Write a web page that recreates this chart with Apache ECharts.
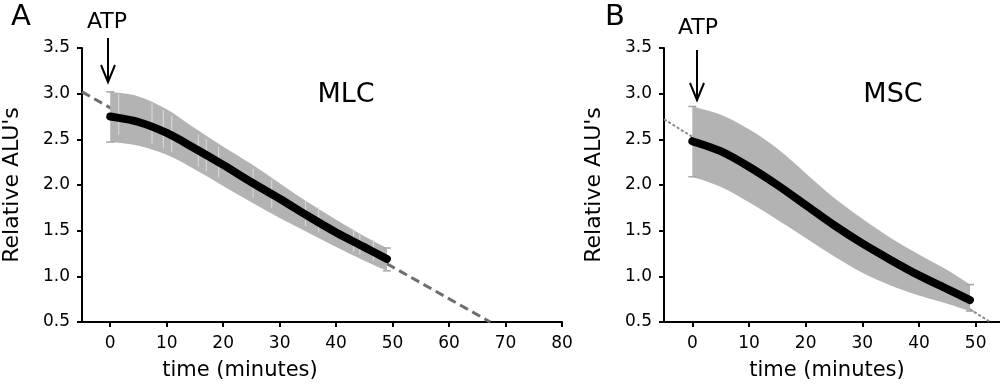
<!DOCTYPE html>
<html><head><meta charset="utf-8">
<script src="https://cdn.jsdelivr.net/npm/echarts@6/dist/echarts.min.js"></script>
<style>html,body{margin:0;padding:0;background:#fff}#c{width:1000px;height:386px}</style>
</head><body><div id="c"></div>
<script>
// ---- data ----
const timesA = [0, 5, 10, 15, 20, 25, 30, 35, 40, 45, 49];
const meanA  = [2.75, 2.69, 2.57, 2.40, 2.22, 2.03, 1.85, 1.66, 1.48, 1.32, 1.19];
const upperA = [3.02, 2.97, 2.83, 2.62, 2.42, 2.23, 2.02, 1.81, 1.62, 1.44, 1.31];
const lowerA = [2.47, 2.43, 2.33, 2.17, 1.99, 1.81, 1.64, 1.48, 1.32, 1.17, 1.06];
const fitA   = [[-5, 3.02], [67.3, 0.5]];
// faint individual error bars visible inside band A: [time, low, high]
const barsA  = [[1.5, 2.55, 3.00], [7.4, 2.45, 2.90], [9.4, 2.40, 2.82], [10.9, 2.36, 2.76],
                [15.6, 2.20, 2.55], [17.0, 2.15, 2.50], [19.2, 2.08, 2.42], [25.3, 1.86, 2.18],
                [28.6, 1.75, 2.06], [34.6, 1.55, 1.83], [36.9, 1.48, 1.76], [43.1, 1.27, 1.52],
                [44.2, 1.24, 1.48], [46.6, 1.17, 1.40]];

const timesB = [0, 5, 10, 15, 20, 25, 30, 35, 40, 45, 49];
const meanB  = [2.48, 2.37, 2.20, 2.00, 1.78, 1.56, 1.36, 1.18, 1.01, 0.86, 0.74];
const upperB = [2.86, 2.77, 2.61, 2.40, 2.13, 1.86, 1.63, 1.42, 1.24, 1.07, 0.91];
const lowerB = [2.09, 1.98, 1.81, 1.62, 1.42, 1.22, 1.04, 0.90, 0.79, 0.70, 0.62];
const fitB   = [[-5, 2.72], [52.6, 0.5]];

const xTicksA = [0, 10, 20, 30, 40, 50, 60, 70, 80];
const xTicksB = [0, 10, 20, 30, 40, 50];

const FONT = 'DejaVu Sans';
const pair = (t, v) => t.map((x, i) => [x, v[i]]);

function xAxis(idx, max, ticks, padRight) {
  return {
    type: 'value', gridIndex: idx, min: -5, max: max,
    axisLine: {show: true, onZero: false, lineStyle: {color: '#000', width: 2}},
    axisTick: {show: true, length: 5, lineStyle: {color: '#000', width: 2}, customValues: ticks},
    axisLabel: {customValues: ticks, color: '#000', fontFamily: FONT, fontSize: 17, margin: 13},
    splitLine: {show: false},
    name: 'time (minutes)', nameLocation: 'middle', nameGap: 38,
    nameTextStyle: {color: '#000', fontFamily: FONT, fontSize: 21, padding: [0, padRight, 0, 0]}
  };
}
function yAxis(idx) {
  return {
    type: 'value', gridIndex: idx, min: 0.5, max: 3.5, interval: 0.5,
    axisLine: {show: true, onZero: false, lineStyle: {color: '#000', width: 2}},
    axisTick: {show: true, length: 5, lineStyle: {color: '#000', width: 2}},
    axisLabel: {color: '#000', fontFamily: FONT, fontSize: 17, margin: 12, formatter: v => v.toFixed(1)},
    splitLine: {show: false},
    name: "Relative ALU's", nameLocation: 'middle', nameGap: 59,
    nameTextStyle: {color: '#000', fontFamily: FONT, fontSize: 22}
  };
}
// smooth path through pixel points (Catmull-Rom -> cubic Bezier)
function curve(pts, start) {
  let d = start ? 'M' + pts[0][0] + ' ' + pts[0][1] : 'L' + pts[0][0] + ' ' + pts[0][1];
  for (let i = 0; i < pts.length - 1; i++) {
    const p0 = pts[Math.max(i - 1, 0)], p1 = pts[i], p2 = pts[i + 1], p3 = pts[Math.min(i + 2, pts.length - 1)];
    const c1 = [p1[0] + (p2[0] - p0[0]) / 6, p1[1] + (p2[1] - p0[1]) / 6];
    const c2 = [p2[0] - (p3[0] - p1[0]) / 6, p2[1] - (p3[1] - p1[1]) / 6];
    d += ' C' + c1[0] + ' ' + c1[1] + ' ' + c2[0] + ' ' + c2[1] + ' ' + p2[0] + ' ' + p2[1];
  }
  return d;
}
function bandSeries(idx, t, u, l) {
  return {
    type: 'custom', xAxisIndex: idx, yAxisIndex: idx, z: 2, silent: true,
    data: t.map((x, i) => [x, l[i], u[i]]),
    encode: {x: 0, y: [1, 2]},
    renderItem: function (params, api) {
      if (params.dataIndex !== 0) return null;
      const up = t.map((x, i) => api.coord([x, u[i]]));
      const lo = t.map((x, i) => api.coord([x, l[i]])).reverse();
      const d = curve(up, true) + ' ' + curve(lo, false) + ' Z';
      const n = t.length - 1;
      const cap = (x, y) => ({type: 'line', shape: {x1: x - 4, y1: y, x2: x + 4, y2: y}, style: {stroke: '#a6a6a6', lineWidth: 1.5}});
      return {type: 'group', children: [
        {type: 'path', shape: {pathData: d}, style: {fill: '#b3b3b3', stroke: null}},
        cap(up[0][0], up[0][1]), cap(lo[n][0], lo[n][1]),
        cap(up[n][0], up[n][1]), cap(lo[0][0], lo[0][1])
      ]};
    }
  };
}
function meanSeries(idx, t, m) {
  return {
    type: 'custom', xAxisIndex: idx, yAxisIndex: idx, z: 4, silent: true,
    data: pair(t, m), encode: {x: 0, y: 1},
    renderItem: function (params, api) {
      if (params.dataIndex !== 0) return null;
      const pts = t.map((x, i) => api.coord([x, m[i]]));
      return {type: 'path', shape: {pathData: curve(pts, true)},
              style: {fill: null, stroke: '#000', lineWidth: 8, lineCap: 'round', lineJoin: 'round'}};
    }
  };
}
function arrow(x, y0, y1) {
  return [
    {type: 'line', shape: {x1: x, y1: y0, x2: x, y2: y1}, style: {stroke: '#000', lineWidth: 2}},
    {type: 'polyline', shape: {points: [[x - 7, y1 - 17], [x, y1], [x + 7, y1 - 17]]}, style: {stroke: '#000', lineWidth: 2, fill: null}}
  ];
}
function label(text, x, y, size) {
  return {type: 'text', x: x, y: y, style: {text: text, fill: '#000', font: size + 'px "' + FONT + '"', align: 'center', verticalAlign: 'middle'}};
}

const option = {
  animation: false,
  backgroundColor: '#fff',
  grid: [
    {left: 82, right: 438, top: 48, bottom: 64, containLabel: false},
    {left: 664, right: 0, top: 48, bottom: 64, containLabel: false}
  ],
  xAxis: [xAxis(0, 80, xTicksA, 164), xAxis(1, 54.3, xTicksB, 10)],
  yAxis: [yAxis(0), yAxis(1)],
  series: [
    {type: 'line', xAxisIndex: 0, yAxisIndex: 0, data: fitA, symbol: 'none', z: 1,
     lineStyle: {color: '#6e6e6e', width: 3, type: [9, 5]}},
    bandSeries(0, timesA, upperA, lowerA),
    {type: 'custom', xAxisIndex: 0, yAxisIndex: 0, z: 3, silent: true, data: barsA,
     encode: {x: 0, y: [1, 2]},
     renderItem: function (params, api) {
       const a = api.coord([api.value(0), api.value(1)]);
       const b = api.coord([api.value(0), api.value(2)]);
       return {type: 'line', shape: {x1: a[0], y1: a[1], x2: b[0], y2: b[1]}, style: {stroke: '#dcdcdc', lineWidth: 1}};
     }},
    meanSeries(0, timesA, meanA),
    {type: 'line', xAxisIndex: 1, yAxisIndex: 1, data: fitB, symbol: 'none', z: 1,
     lineStyle: {color: '#8a8a8a', width: 2, type: [3, 2]}},
    bandSeries(1, timesB, upperB, lowerB),
    meanSeries(1, timesB, meanB)
  ],
  graphic: [
    label('A', 21, 17, 29),
    label('B', 615, 17, 29),
    label('ATP', 107, 22, 22),
    label('ATP', 698, 28, 22),
    label('MLC', 346, 95, 27),
    label('MSC', 893, 95, 27),
    ...arrow(108, 38, 82),
    ...arrow(697, 50, 100)
  ]
};
const chart = echarts.init(document.getElementById('c'), null, {renderer: 'canvas'});
chart.setOption(option);
</script></body></html>
